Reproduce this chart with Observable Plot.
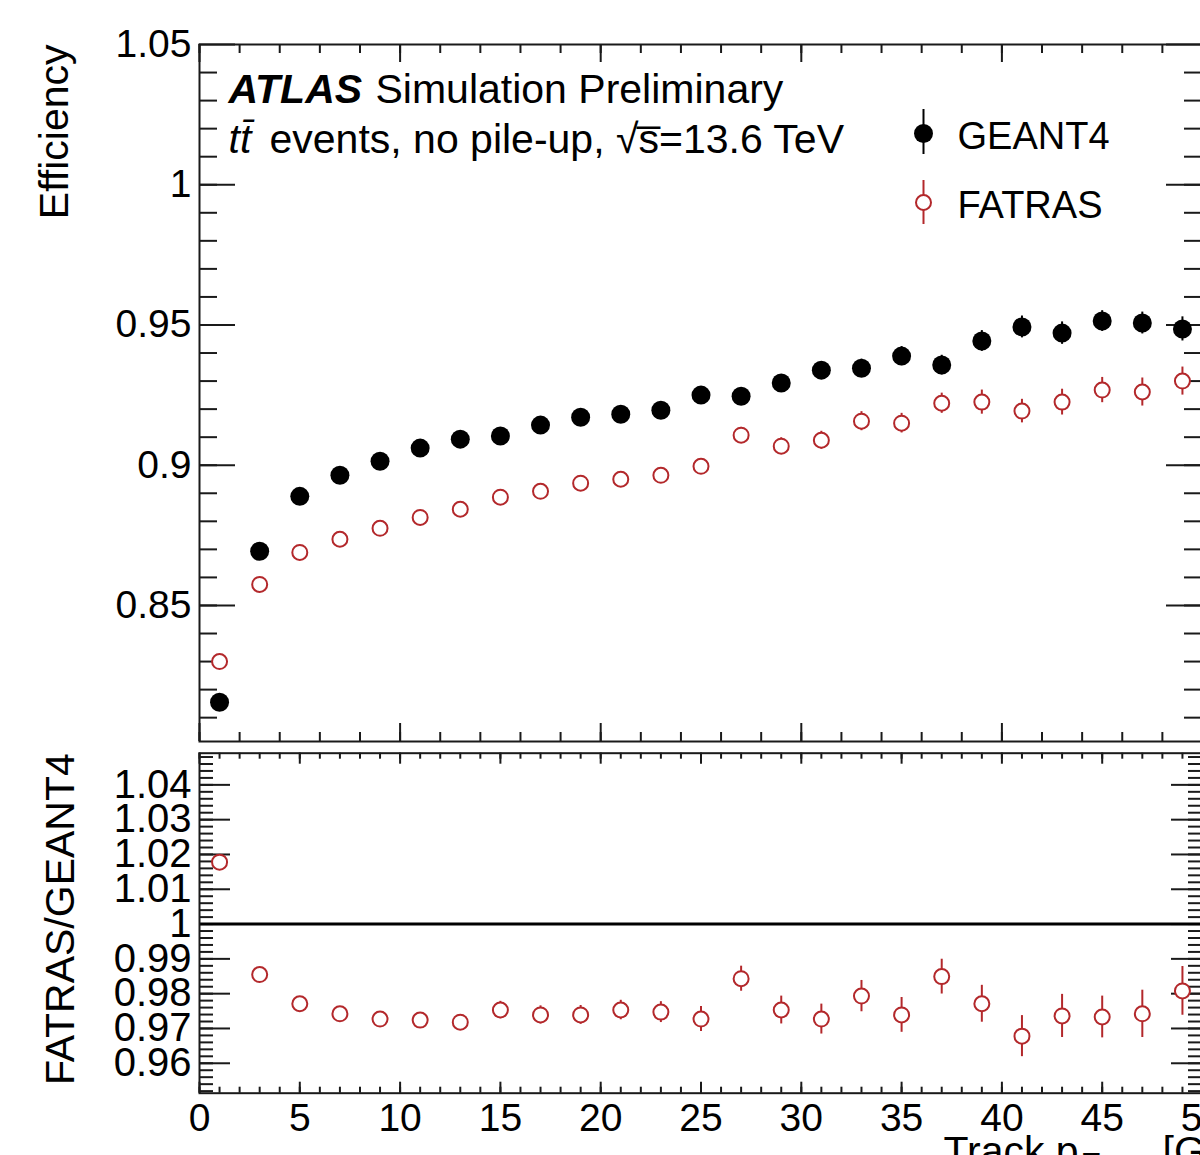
<!DOCTYPE html>
<html><head><meta charset="utf-8">
<script src="https://cdn.jsdelivr.net/npm/d3@7"></script>
<script src="https://cdn.jsdelivr.net/npm/@observablehq/plot@0.6"></script>
<style>
html,body{margin:0;padding:0;background:#fff;overflow:hidden;width:1200px;height:1155px;}
#chart{position:relative;width:1200px;height:1155px;overflow:hidden;}
#top,#bot{position:absolute;left:0;width:1210px;}
#top{top:0px;} #bot{top:748px;}
#chart svg{max-width:none !important;}
</style></head><body><div id="chart"><div id="top"></div><div id="bot"></div></div>
<script>
// ---------- data ----------
const binCenters = [1,3,5,7,9,11,13,15,17,19,21,23,25,27,29,31,33,35,37,39,41,43,45,47,49];
const geant4Eff = [0.8155,0.8693,0.8889,0.8964,0.9014,0.9061,0.9093,0.9104,0.9143,0.9171,0.9182,0.9196,0.9250,0.9246,0.9293,0.9339,0.9346,0.9389,0.9357,0.9443,0.9493,0.9471,0.9514,0.9507,0.9486];
const geant4Err = [0.0015,0.0015,0.0015,0.0015,0.0015,0.0016,0.0017,0.0018,0.0019,0.002,0.0021,0.0023,0.0025,0.0027,0.0029,0.003,0.0032,0.0034,0.0035,0.0037,0.0039,0.004,0.0037,0.0039,0.0043];
const fatrasEff = [0.8300,0.8575,0.8689,0.8736,0.8775,0.8814,0.8843,0.8886,0.8907,0.8936,0.8950,0.8964,0.8996,0.9107,0.9068,0.9089,0.9157,0.9150,0.9221,0.9225,0.9193,0.9225,0.9268,0.9261,0.9300];
const fatrasErr = [0.0015,0.0015,0.0015,0.0015,0.0016,0.0017,0.0018,0.0019,0.002,0.0021,0.0022,0.0024,0.0026,0.0028,0.003,0.0032,0.0034,0.0035,0.0036,0.0043,0.0042,0.0046,0.0045,0.005,0.005];
const ratioVal = [1.0178,0.9855,0.9771,0.9742,0.9727,0.9724,0.9718,0.9753,0.9739,0.9739,0.9753,0.9747,0.9727,0.9843,0.9753,0.9727,0.9793,0.9739,0.9849,0.9771,0.9678,0.9736,0.9733,0.9742,0.9808];
const ratioErr = [0.002,0.002,0.002,0.002,0.002,0.002,0.0022,0.0025,0.0026,0.0027,0.0028,0.003,0.0036,0.0036,0.004,0.0043,0.0045,0.005,0.005,0.0053,0.0059,0.0062,0.006,0.0068,0.007];
const xTickLabels = [0,5,10,15,20,25,30,35,40,45,50];
const effTickLabels = [0.85,0.9,0.95,1,1.05];
const ratioTickLabels = [0.96,0.97,0.98,0.99,1,1.01,1.02,1.03,1.04];
const seriesNames = ["GEANT4","FATRAS"];

// ---------- layout ----------
const font = "'Liberation Sans', Arial, Helvetica, sans-serif";
const red = "#b3282b";
const ink = "#1a1a1a";
const W = 1210, ML = 199, MR = 8;
const frameW = W - ML - MR;
const topH = 748, topMT = 44, topMB = 7, topFH = topH - topMT - topMB;
const botH = 440, botMT = 4.7, botFH = 340, botMB = botH - botMT - botFH;

const g4 = binCenters.map((x,i)=>({x, y: geant4Eff[i], e: geant4Err[i]}));
const fa = binCenters.map((x,i)=>({x, y: fatrasEff[i], e: fatrasErr[i]}));
const ra = binCenters.map((x,i)=>({x, y: ratioVal[i], e: ratioErr[i]}));

const rng = (a,b,s)=>d3.range(Math.round((b-a)/s)+1).map(i=>+(a+i*s).toFixed(4));

function boxTicks(xMaj, xMin, yMaj, yMin, L, fh) {
  const st = {stroke: ink, strokeWidth: 2};
  return [
    Plot.tickX(xMin, {x: d=>d, insetTop: fh - L.xMin, ...st}),
    Plot.tickX(xMin, {x: d=>d, insetBottom: fh - L.xMin, ...st}),
    Plot.tickX(xMaj, {x: d=>d, insetTop: fh - L.xMaj, ...st}),
    Plot.tickX(xMaj, {x: d=>d, insetBottom: fh - L.xMaj, ...st}),
    Plot.tickY(yMin, {y: d=>d, insetRight: frameW - L.yMin, ...st}),
    Plot.tickY(yMin, {y: d=>d, insetLeft: frameW - L.yMin, ...st}),
    Plot.tickY(yMaj, {y: d=>d, insetRight: frameW - L.yMaj, ...st}),
    Plot.tickY(yMaj, {y: d=>d, insetLeft: frameW - L.yMaj, ...st}),
  ];
}

const txt = (s, o) => Plot.text([s], {text: d=>d, frameAnchor: "top-left", textAnchor: "start", lineAnchor: "bottom", fill: "black", ...o});
const svgStyle = {fontFamily: font, fontSize: "40px", color: "black", background: "transparent", overflow: "visible", maxWidth: "none"};

// ---------- top panel ----------
const topPlot = Plot.plot({
  width: W, height: topH, marginLeft: ML, marginRight: MR, marginTop: topMT, marginBottom: topMB,
  style: svgStyle,
  x: {domain: [0, 50], axis: null},
  y: {domain: [0.8015, 1.05]},
  marks: [
    ...boxTicks(rng(0,50,10), rng(0,50,2), effTickLabels, rng(0.81,1.04,0.01), {xMaj: 18, xMin: 9, yMaj: 36, yMin: 18}, topFH),
    Plot.axisY(effTickLabels, {anchor: "left", tickSize: 0, tickPadding: 8, fontSize: 39, tickFormat: d=>String(d), label: null}),
    Plot.ruleX(g4, {x: "x", y1: d=>d.y-d.e, y2: d=>d.y+d.e, stroke: "black", strokeWidth: 2}),
    Plot.dot(g4, {x: "x", y: "y", r: 9.5, fill: "black", stroke: "none"}),
    Plot.ruleX(fa, {x: "x", y1: d=>d.y-d.e, y2: d=>d.y+d.e, stroke: red, strokeWidth: 2}),
    Plot.dot(fa, {x: "x", y: "y", r: 7.5, fill: "white", stroke: red, strokeWidth: 2}),
    // annotations
    txt("ATLAS", {dx: 29, dy: 58, fontSize: 41, fontWeight: "bold", fontStyle: "italic"}),
    txt("Simulation Preliminary", {dx: 176, dy: 58, fontSize: 41}),
    txt("tt\u0304", {dx: 29, dy: 108, fontSize: 41, fontStyle: "italic"}),
    txt("events, no pile-up, \u221As\u0305=13.6 TeV", {dx: 70, dy: 108, fontSize: 41}),
    // legend
    Plot.ruleX([0], {dx: 724, insetTop: 65, insetBottom: topFH - 110, stroke: "black", strokeWidth: 2}),
    Plot.dot([0], {frameAnchor: "top-left", dx: 724, dy: 89, r: 9.5, fill: "black", stroke: "none"}),
    Plot.ruleX([0], {dx: 724, insetTop: 136, insetBottom: topFH - 180, stroke: red, strokeWidth: 2}),
    Plot.dot([0], {frameAnchor: "top-left", dx: 724, dy: 158, r: 7.5, fill: "white", stroke: red, strokeWidth: 2}),
    txt(seriesNames[0], {dx: 758, dy: 104, fontSize: 38}),
    txt(seriesNames[1], {dx: 758, dy: 173, fontSize: 38}),
    txt("Efficiency", {dx: -132, dy: 0, rotate: -90, textAnchor: "end", fontSize: 41}),
    Plot.frame({stroke: ink, strokeWidth: 2})
  ]
});
document.getElementById("top").appendChild(topPlot);

// ---------- ratio panel ----------
const botPlot = Plot.plot({
  width: W, height: botH, marginLeft: ML, marginRight: MR, marginTop: botMT, marginBottom: botMB,
  style: svgStyle,
  x: {domain: [0, 50]},
  y: {domain: [0.9514, 1.0491]},
  marks: [
    ...boxTicks(xTickLabels, rng(0,50,1), ratioTickLabels, rng(0.952,1.048,0.002), {xMaj: 11, xMin: 6, yMaj: 31, yMin: 14}, botFH),
    Plot.axisY(ratioTickLabels, {anchor: "left", tickSize: 0, tickPadding: 8, fontSize: 40, tickFormat: d=>String(d), label: null}),
    Plot.axisX(xTickLabels, {anchor: "bottom", tickSize: 0, tickPadding: 10, fontSize: 39, tickFormat: d=>String(d), label: null}),
    Plot.ruleY([1], {stroke: "black", strokeWidth: 3}),
    Plot.ruleX(ra, {x: "x", y1: d=>d.y-d.e, y2: d=>d.y+d.e, stroke: red, strokeWidth: 2}),
    Plot.dot(ra, {x: "x", y: "y", r: 7.5, fill: "white", stroke: red, strokeWidth: 2}),
    Plot.text(["FATRAS/GEANT4"], {text: d=>d, frameAnchor: "top-left", dx: -126, dy: 0, rotate: -90, textAnchor: "end", lineAnchor: "bottom", fontSize: 41, fill: "black"}),
    Plot.text(["Track p"], {text: d=>d, frameAnchor: "bottom-left", dx: 744, dy: 72, textAnchor: "start", lineAnchor: "bottom", fontSize: 41, fill: "black"}),
    Plot.text(["T"], {text: d=>d, frameAnchor: "bottom-left", dx: 883, dy: 80, textAnchor: "start", lineAnchor: "bottom", fontSize: 29, fill: "black"}),
    Plot.text(["[GeV]"], {text: d=>d, frameAnchor: "bottom-left", dx: 963, dy: 72, textAnchor: "start", lineAnchor: "bottom", fontSize: 41, fill: "black"}),
    Plot.frame({stroke: ink, strokeWidth: 2})
  ]
});
document.getElementById("bot").appendChild(botPlot);
</script></body></html>
